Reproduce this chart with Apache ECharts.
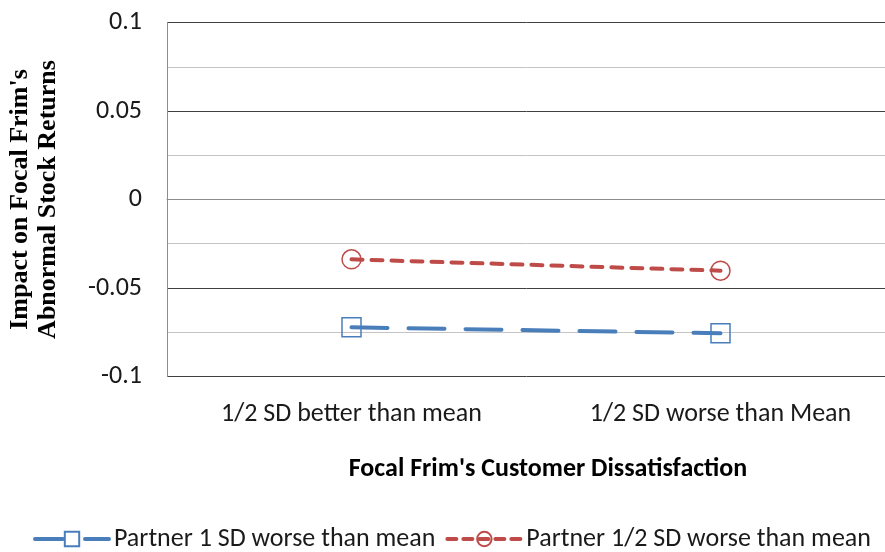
<!DOCTYPE html>
<html>
<head>
<meta charset="utf-8">
<script src="https://cdn.jsdelivr.net/npm/echarts@6/dist/echarts.min.js"></script>
<style>
  html, body { margin: 0; padding: 0; background: #fff; }
  #chart { width: 885px; height: 552px; }
</style>
</head>
<body>
<div id="chart"></div>
<script>
// Dissatisfaction levels on the x axis
const categories = ['1/2 SD better than mean', '1/2 SD worse than Mean'];
// Impact on abnormal stock returns for each partner scenario
const partner1SD = [-0.0722, -0.0756];
const partnerHalfSD = [-0.0338, -0.0402];
const seriesNames = ['Partner 1 SD worse than mean', 'Partner 1/2 SD worse than mean'];

const labelFont = 'Carlito, "Liberation Sans", "Open Sans", sans-serif';
const chart = echarts.init(document.getElementById('chart'));

chart.setOption({
  animation: false,
  backgroundColor: '#ffffff',
  grid: {
    left: 167, top: 22.5, width: 738, bottom: 175.5,
    containLabel: false, outerBoundsMode: 'none'
  },
  legend: {
    left: 28,
    top: 521,
    itemWidth: 74,
    itemHeight: 18,
    itemGap: 10,
    textStyle: { fontFamily: labelFont, fontSize: 26, color: '#1a1a1a' },
    data: [
      { name: seriesNames[0], lineStyle: { width: 4, type: [28, 22], cap: 'round' } },
      { name: seriesNames[1], lineStyle: { width: 4, type: [9, 7], cap: 'round' } }
    ]
  },
  xAxis: {
    type: 'category',
    data: categories,
    boundaryGap: true,
    axisLine: { lineStyle: { color: '#8c8c8c', width: 1 } },
    axisTick: { show: false },
    axisLabel: { fontFamily: labelFont, fontSize: 26, color: '#1a1a1a', margin: 25 },
    name: "Focal Frim's Customer Dissatisfaction",
    nameLocation: 'middle',
    nameGap: 80,
    nameTextStyle: { fontFamily: labelFont, fontSize: 26, fontWeight: 'bold', color: '#000', padding: [0, 0, 0, 24] }
  },
  yAxis: {
    type: 'value',
    min: -0.1,
    max: 0.1,
    interval: 0.025,
    axisLine: { show: true, lineStyle: { color: '#8c8c8c', width: 1 } },
    axisTick: { show: false },
    axisLabel: {
      fontFamily: labelFont, fontSize: 26, color: '#1a1a1a', margin: 25,
      formatter: v => {
        const r = Math.round(v * 1000) / 1000;
        if (Math.abs(r * 1000) % 50 !== 0) return '';
        return String(r);
      }
    },
    splitLine: { show: true, lineStyle: { color: ['#404040', '#c4c4c4'], width: 1 } },
    name: "Impact on Focal Frim's\nAbnormal Stock Returns",
    nameLocation: 'middle',
    nameRotate: 90,
    nameGap: 105,
    nameTextStyle: {
      fontFamily: '"Liberation Serif", "Times New Roman", serif',
      fontSize: 26, fontWeight: 'bold', color: '#000', lineHeight: 28
    }
  },
  series: [
    {
      name: seriesNames[0],
      type: 'line',
      data: partner1SD,
      symbol: 'rect',
      symbolSize: 19,
      lineStyle: { color: '#4a7ebb', width: 4, type: [36, 21], cap: 'round' },
      itemStyle: { color: 'rgba(255,255,255,0)', borderColor: '#4a7ebb', borderWidth: 1.5 }
    },
    {
      name: seriesNames[1],
      type: 'line',
      data: partnerHalfSD,
      symbol: 'circle',
      symbolSize: 19,
      lineStyle: { color: '#be4b48', width: 4, type: [11, 9], cap: 'round' },
      itemStyle: { color: 'rgba(255,255,255,0)', borderColor: '#be4b48', borderWidth: 1.5 }
    }
  ]
});
</script>
</body>
</html>
